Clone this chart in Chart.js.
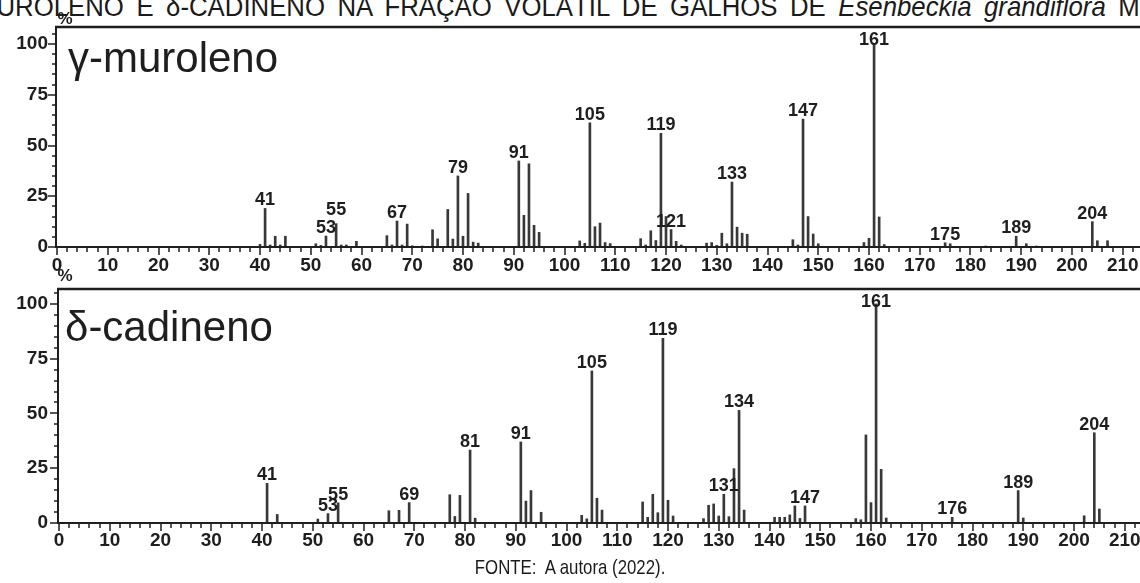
<!DOCTYPE html>
<html><head><meta charset="utf-8">
<script src="https://cdn.jsdelivr.net/npm/chart.js@4.4.1/dist/chart.umd.min.js"></script>
<style>
html,body{margin:0;padding:0;background:#fff;width:1140px;height:583px;overflow:hidden;}
body{position:relative;}
canvas{position:absolute;left:0;}
#title{position:absolute;left:-25px;top:-7px;width:1266px;font-family:"Liberation Sans",Arial,sans-serif;font-size:28px;line-height:28px;color:#1a1a1a;transform-origin:0 0;transform:scaleX(0.92);text-align:justify;text-align-last:justify;}
#foot{position:absolute;left:0;width:1140px;top:555px;text-align:center;font-family:"Liberation Sans",Arial,sans-serif;font-size:21px;line-height:23px;color:#1a1a1a;}
#foot span{display:inline-block;transform:scaleX(0.8);}
</style></head>
<body>
<div id="title">MUROLENO E δ-CADINENO NA FRAÇÃO VOLÁTIL DE GALHOS DE <i>Esenbeckia grandiflora</i> M</div>
<canvas id="c1" width="1140" height="290" style="top:0"></canvas>
<canvas id="c2" width="1140" height="291" style="top:262px"></canvas>
<div id="foot"><span>FONTE:&nbsp; A autora (2022).</span></div>
<script>
// ---- data ----
const topName = 'γ-muroleno';
const topMz  = [40,41,42,43,44,45,51,52,53,55,56,57,59,65,66,67,68,69,70,72,74,75,77,78,79,80,81,82,83,91,92,93,94,95,103,104,105,106,107,108,109,115,116,117,118,119,120,121,122,123,128,129,130,131,132,133,134,135,136,145,146,147,148,149,150,159,160,161,162,163,175,176,183,189,191,193,204,205,207];
const topInt = [1.3,19,1,5.3,1,5.3,1.6,0.8,5.4,11.5,1,1,2.8,5.6,1,12.8,1,11.3,0.6,0.5,8.5,4,18.5,3.9,35,5.3,26.4,2.4,1.9,42.4,15.6,41,10.7,7.2,3,1.8,61.2,10,11.8,2.2,1.7,4.1,1,8,3.2,56,15,8.6,2.8,1,1.9,2.2,0.8,6.8,1.6,32,9.8,6.8,6.3,3.6,1,63,15,6.4,1.6,2.2,4.3,100,14.8,1.2,2.1,1.6,0.5,5.3,1.6,0.5,12.5,3.1,3.1];
const topPeakLabels = [41,53,55,67,79,91,105,119,121,133,147,161,175,189,204];

const botName = 'δ-cadineno';
const botMz  = [41,43,51,53,55,65,67,69,77,78,79,81,82,91,92,93,95,103,104,105,106,107,115,116,117,118,119,120,121,127,128,129,130,131,132,133,134,135,141,142,143,144,145,146,147,157,158,159,160,161,162,163,176,189,190,202,204,205];
const botInt = [18.1,3.9,1.8,4.3,9.2,5.6,5.8,9.3,12.9,3,12.6,33.3,2.2,37,10,14.8,4.9,3.5,1.9,69.4,11.3,5.9,9.6,2.6,13.1,4.7,84.3,10.4,3.2,2,8.1,8.7,3.2,13.1,2.9,24.8,51.4,5.9,2.6,2.6,2.6,3.7,7.8,2.1,7.8,2,1.5,40.2,9.3,100,24.5,2.3,2.6,14.8,2.3,3.3,41.2,6.4];
const botPeakLabels = [41,53,55,69,81,91,105,119,131,134,147,161,176,189,204];

const xTickLabels = [0,10,20,30,40,50,60,70,80,90,100,110,120,130,140,150,160,170,180,190,200,210];
const yTickLabels = [0,25,50,75,100];
const yAxisTitle = '%';

// ---- drawing ----
const INK = '#1e1e1e';
const msPlugin = {
  id: 'msAxes',
  afterDatasetsDraw(chart, args, o) {
    const {ctx, chartArea: a, scales: {x, y}} = chart;
    ctx.save();
    ctx.strokeStyle = INK; ctx.fillStyle = INK;
    ctx.lineWidth = 2.5;
    ctx.beginPath(); ctx.moveTo(a.left - 2, a.top); ctx.lineTo(a.right, a.top); ctx.stroke();
    ctx.lineWidth = 2;
    ctx.beginPath(); ctx.moveTo(a.left - 2, a.bottom); ctx.lineTo(a.right, a.bottom); ctx.stroke();
    ctx.beginPath(); ctx.moveTo(a.left - 1, a.bottom + 1); ctx.lineTo(a.left - 1, a.top); ctx.stroke();
    ctx.lineWidth = 1.5;
    for (let v = 0; v <= x.max; v += 2) {
      const px = Math.round(x.getPixelForValue(v));
      const len = v % 10 === 0 ? 8 : 5;
      ctx.beginPath(); ctx.moveTo(px, a.bottom); ctx.lineTo(px, a.bottom + len); ctx.stroke();
    }
    for (let v = 0; v <= y.max; v += 5) {
      const py = Math.round(y.getPixelForValue(v));
      const len = v % 25 === 0 ? 8 : 4;
      ctx.beginPath(); ctx.moveTo(a.left - 1, py); ctx.lineTo(a.left - 1 - len, py); ctx.stroke();
    }
    ctx.font = 'bold 19px "Liberation Sans", Arial, sans-serif';
    ctx.textAlign = 'center'; ctx.textBaseline = 'middle';
    xTickLabels.forEach(v => ctx.fillText(String(v), x.getPixelForValue(v), a.bottom + o.xLabelDy));
    ctx.textAlign = 'right';
    yTickLabels.forEach(v => ctx.fillText(String(v), 48, y.getPixelForValue(v)));
    ctx.font = 'bold 17px "Liberation Sans", Arial, sans-serif';
    ctx.textAlign = 'center';
    ctx.fillText(yAxisTitle, 65, a.top + o.pctDy);
    ctx.font = '42px "Liberation Sans", Arial, sans-serif';
    ctx.textAlign = 'left'; ctx.textBaseline = 'alphabetic';
    ctx.fillText(o.name, o.nameX, a.top + o.nameDy);
    ctx.font = 'bold 18px "Liberation Sans", Arial, sans-serif';
    ctx.textAlign = 'center';
    const ds = chart.data.datasets[0].data;
    o.peaks.forEach(m => {
      const pt = ds.find(d => d.x === m);
      if (!pt) return;
      const lift = (o.lift && o.lift[m]) || 0;
      let base = y.getPixelForValue(pt.y) - 3 - lift;
      base = Math.max(base, a.top + 18);
      ctx.fillText(String(m), x.getPixelForValue(m), base);
    });
    ctx.restore();
  }
};

function makeChart(id, mz, inten, cfg) {
  const h = document.getElementById(id).height;
  return new Chart(document.getElementById(id), {
    type: 'bar',
    data: { datasets: [{
      data: mz.map((m, i) => ({x: m, y: inten[i]})),
      backgroundColor: '#383838', borderWidth: 0,
      barThickness: 2
    }]},
    options: {
      responsive: false, animation: false, devicePixelRatio: 1,
      layout: { padding: { left: cfg.left, right: 0, top: cfg.top, bottom: h - cfg.bottom } },
      plugins: { legend: {display: false}, tooltip: {enabled: false}, msAxes: cfg.opts },
      scales: {
        x: { type: 'linear', display: false, offset: false, min: 0, max: cfg.xmax },
        y: { type: 'linear', display: false, min: 0, max: cfg.ymax }
      }
    },
    plugins: [msPlugin]
  });
}

makeChart('c1', topMz, topInt, {
  left: 57, top: 27, bottom: 247, xmax: (1140 - 57) / 5.075, ymax: 108.4,
  opts: { name: topName, nameX: 68, nameDy: 45, xLabelDy: 19, pctDy: -8, peaks: topPeakLabels, lift: {55: 6} }
});
makeChart('c2', botMz, botInt, {
  left: 59, top: 27, bottom: 261, xmax: (1140 - 59) / 5.075, ymax: 106.8,
  opts: { name: botName, nameX: 65, nameDy: 52, xLabelDy: 18, pctDy: -13, peaks: botPeakLabels }
});
</script>
</body></html>
